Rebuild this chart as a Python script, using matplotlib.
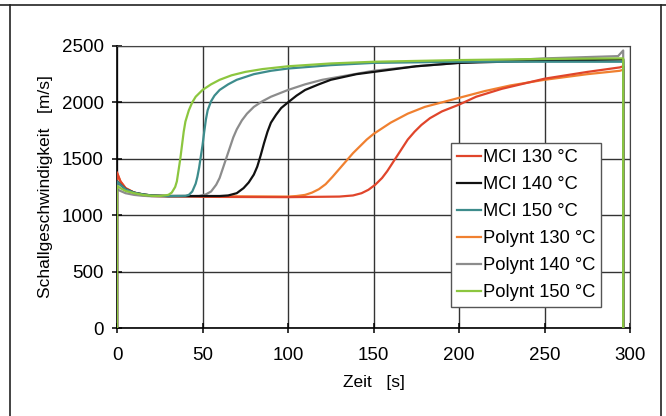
import matplotlib.pyplot as plt
from matplotlib.lines import Line2D

plt.rcParams['font.family'] = ['Liberation Sans', 'DejaVu Sans']

# Schallgeschwindigkeit ueber Zeit
labels = ['MCI 130 °C', 'MCI 140 °C', 'MCI 150 °C',
          'Polynt 130 °C', 'Polynt 140 °C', 'Polynt 150 °C']
colors = ['#e0452b', '#111111', '#3d8c8c', '#f08030', '#8c8c8c', '#8cc63f']

t_mci130 = [0, 0, 2, 5, 10, 15, 20, 30, 60, 100, 130, 138, 143, 147, 151, 155, 158, 161, 164, 167, 170, 174, 178,
            183, 190, 200, 210, 225, 250, 275, 294, 296, 296]
v_mci130 = [0, 1380, 1300, 1240, 1200, 1180, 1170, 1165, 1162, 1160, 1165, 1175, 1195, 1225, 1270, 1330, 1390,
            1460, 1530, 1600, 1670, 1740, 1800, 1860, 1920, 1980, 2050, 2120, 2210, 2270, 2310, 2320, 0]

t_mci140 = [0, 0, 2, 5, 10, 15, 20, 30, 60, 65, 70, 74, 77, 80, 82, 84, 86, 88, 90, 93, 96, 100, 105, 110, 118,
            125, 140, 150, 175, 200, 250, 294, 296, 296]
v_mci140 = [0, 1300, 1270, 1230, 1200, 1185, 1175, 1170, 1170, 1175, 1195, 1240, 1290, 1360, 1430, 1530, 1640,
            1740, 1820, 1890, 1950, 2000, 2060, 2110, 2160, 2200, 2250, 2270, 2320, 2350, 2370, 2380, 2380, 0]

t_mci150 = [0, 0, 2, 5, 10, 15, 20, 30, 40, 42, 44, 46, 47, 48, 49, 50, 51, 52, 53, 55, 57, 60, 65, 70, 80, 90,
            100, 125, 150, 200, 250, 294, 296, 296]
v_mci150 = [0, 1300, 1270, 1230, 1200, 1185, 1175, 1170, 1172, 1180, 1210, 1280, 1340, 1420, 1520, 1620, 1740,
            1850, 1930, 2010, 2060, 2110, 2160, 2200, 2250, 2280, 2300, 2330, 2350, 2360, 2360, 2360, 2360, 0]

t_pol130 = [0, 0, 2, 5, 10, 15, 20, 30, 60, 100, 105, 110, 114, 118, 122, 126, 130, 134, 138, 142, 146, 150, 155,
            160, 170, 180, 190, 200, 215, 230, 250, 275, 294, 296, 296]
v_pol130 = [0, 1370, 1300, 1240, 1200, 1185, 1175, 1170, 1168, 1165, 1170, 1180, 1200, 1230, 1275, 1340, 1410,
            1480, 1550, 1610, 1670, 1720, 1770, 1820, 1900, 1960, 2000, 2040, 2100, 2150, 2200, 2250, 2280, 2290, 0]

t_pol140 = [0, 0, 2, 5, 10, 15, 20, 30, 48, 52, 55, 58, 60, 62, 64, 66, 68, 70, 73, 76, 80, 85, 90, 100, 110, 120,
            135, 150, 175, 200, 250, 293, 296, 296]
v_pol140 = [0, 1230, 1215, 1195, 1180, 1172, 1168, 1165, 1170, 1185, 1210, 1270, 1330, 1420, 1510, 1600, 1690,
            1760, 1840, 1900, 1960, 2010, 2050, 2110, 2160, 2200, 2240, 2280, 2320, 2350, 2390, 2410, 2460, 0]

t_pol150 = [0, 0, 2, 5, 10, 15, 20, 25, 30, 32, 34, 35, 36, 37, 38, 39, 40, 42, 44, 46, 50, 55, 60, 67, 75, 85,
            100, 125, 150, 200, 250, 294, 296, 296]
v_pol150 = [0, 1260, 1240, 1215, 1195, 1180, 1172, 1170, 1180, 1200, 1250, 1300, 1400, 1500, 1620, 1740, 1830,
            1930, 2000, 2050, 2110, 2160, 2200, 2240, 2270, 2295, 2320, 2345, 2360, 2375, 2385, 2390, 2390, 0]

series = [(t_mci130, v_mci130), (t_mci140, v_mci140), (t_mci150, v_mci150),
          (t_pol130, v_pol130), (t_pol140, v_pol140), (t_pol150, v_pol150)]

x_ticks = [0, 50, 100, 150, 200, 250, 300]
y_ticks = [0, 500, 1000, 1500, 2000, 2500]

fig = plt.figure(figsize=(6.66, 4.16), dpi=100)
ax = fig.add_axes([0.1757, 0.2115, 0.7703, 0.678])

# draw order: later rises first so early curves sit on top
order = [3, 0, 4, 1, 2, 5]
for i in order:
    t, v = series[i]
    ax.plot(t, v, color=colors[i], lw=1.6, solid_joinstyle='round', zorder=3)

ax.set_xlim(0, 300)
ax.set_ylim(0, 2500)
ax.set_xticks(x_ticks)
ax.set_yticks(y_ticks)
ax.grid(True, color='#333333', lw=1.0)
ax.set_axisbelow(True)
for s in ['top', 'right']:
    ax.spines[s].set_color('#444444')
for s in ['left', 'bottom']:
    ax.spines[s].set_color('black')
    ax.spines[s].set_linewidth(1.2)
ax.tick_params(direction='inout', length=7, width=1.1, labelsize=13.5, pad=6)
ax.tick_params(axis='x', pad=10)

ax.set_xlabel('Zeit   [s]', fontsize=12.5, labelpad=8)
ax.set_ylabel('Schallgeschwindigkeit   [m/s]', fontsize=12.5, labelpad=6)

handles = [Line2D([0], [0], color=c, lw=1.6) for c in colors]
leg = ax.legend(handles, labels, loc='lower right', bbox_to_anchor=(0.944, 0.075),
                fontsize=13.2, handlelength=1.3, handletextpad=0.15,
                borderpad=0.3, labelspacing=0.55, fancybox=False,
                framealpha=1, edgecolor='#555555', borderaxespad=0)
leg.get_frame().set_linewidth(1.0)

# outer frame of the figure
fig.add_artist(Line2D([0, 1], [1 - 5 / 416, 1 - 5 / 416], color='#222222', lw=1.2))
fig.add_artist(Line2D([10 / 666, 10 / 666], [0, 1 - 5 / 416], color='#222222', lw=1.2))
fig.add_artist(Line2D([661 / 666, 661 / 666], [0, 1 - 5 / 416], color='#222222', lw=1.2))

fig.savefig('out.png', dpi=100)
